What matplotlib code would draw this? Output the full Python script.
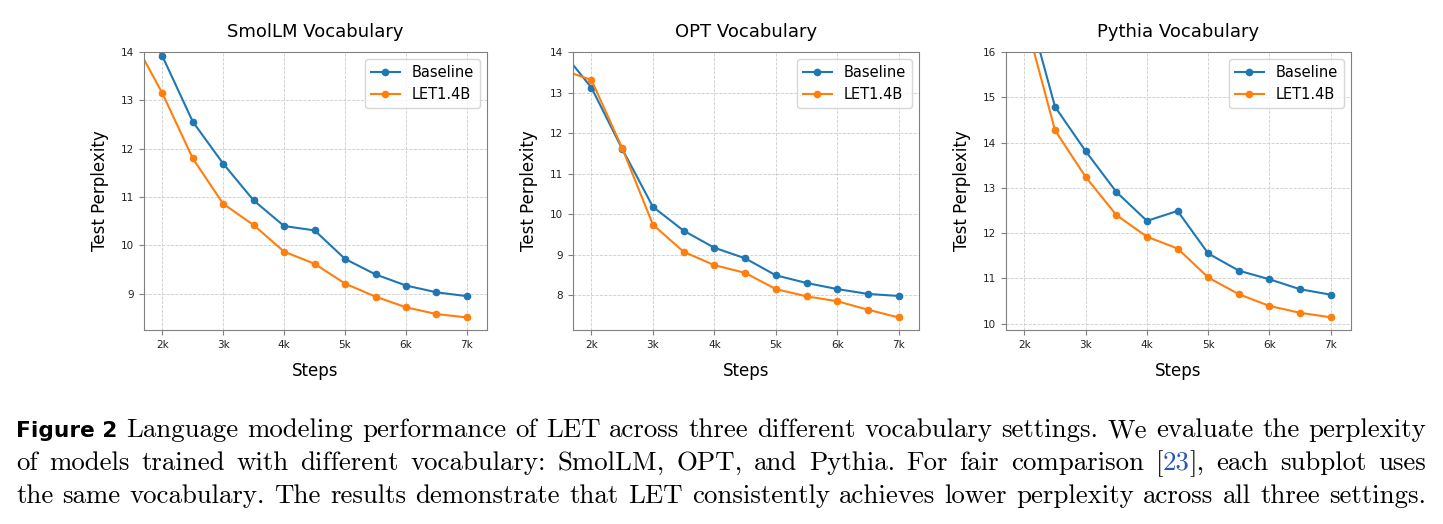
import matplotlib
matplotlib.use("Agg")
import matplotlib.pyplot as plt

# data
steps = [1500, 2000, 2500, 3000, 3500, 4000, 4500, 5000, 5500, 6000, 6500, 7000]
steps_pythia = [2000, 2500, 3000, 3500, 4000, 4500, 5000, 5500, 6000, 6500, 7000]
tick_steps = [2000, 3000, 4000, 5000, 6000, 7000]
tick_labels = ["2k", "3k", "4k", "5k", "6k", "7k"]

smollm_baseline = [14.84, 13.92, 12.56, 11.69, 10.93, 10.40, 10.31, 9.72, 9.40, 9.17, 9.03, 8.95]
smollm_let = [14.31, 13.15, 11.80, 10.86, 10.42, 9.87, 9.62, 9.21, 8.94, 8.72, 8.58, 8.51]

opt_baseline = [14.06, 13.12, 11.61, 10.18, 9.59, 9.17, 8.91, 8.49, 8.30, 8.15, 8.03, 7.98]
opt_let = [13.57, 13.31, 11.63, 9.74, 9.07, 8.74, 8.55, 8.15, 7.97, 7.85, 7.64, 7.45]

pythia_baseline = [17.27, 14.79, 13.81, 12.91, 12.27, 12.49, 11.55, 11.17, 10.98, 10.76, 10.64]
pythia_let = [16.80, 14.27, 13.24, 12.40, 11.92, 11.66, 11.02, 10.65, 10.39, 10.24, 10.14]

caption1 = "Language modeling performance of LET across three different vocabulary settings. We evaluate the perplexity"
caption2a = "of models trained with different vocabulary: SmolLM, OPT, and Pythia. For fair comparison"
caption2b = "each subplot uses"
caption3 = "the same vocabulary. The results demonstrate that LET consistently achieves lower perplexity across all three settings."

W, H = 1443, 524
fig = plt.figure(figsize=(W / 100, H / 100), dpi=100)

panels = [
    ("SmolLM Vocabulary", steps, smollm_baseline, smollm_let, (8.25, 14), 144, 343),
    ("OPT Vocabulary", steps, opt_baseline, opt_let, (7.14, 14), 573, 346),
    ("Pythia Vocabulary", steps_pythia, pythia_baseline, pythia_let, (9.86, 16), 1006, 345),
]

for title, x, base, let, ylim, left_px, width_px in panels:
    ax = fig.add_axes([left_px / W, 1 - 330 / H, width_px / W, 278 / H])
    ax.plot(x, base, marker="o", markersize=4.5, linewidth=1.5, color="#1f77b4", label="Baseline")
    ax.plot(x, let, marker="o", markersize=4.5, linewidth=1.5, color="#ff7f0e", label="LET1.4B")
    ax.set_xlim(1700, 7330)
    ax.set_ylim(*ylim)
    ax.set_xticks(tick_steps)
    ax.set_xticklabels(tick_labels)
    ax.tick_params(labelsize=7.5, color="#808080", labelcolor="#222222")
    ax.grid(True, linestyle="--", linewidth=0.6, color="#cccccc")
    for sp in ax.spines.values():
        sp.set_color("#808080")
    ax.set_title(title, fontsize=13, pad=11)
    ax.set_xlabel("Steps", fontsize=12, labelpad=8.5)
    ax.set_ylabel("Test Perplexity", fontsize=12, labelpad=9)
    ax.legend(loc="upper right", fontsize=10.5)

fig.canvas.draw()
renderer = fig.canvas.get_renderer()


def text_width(txt, **kw):
    t = fig.text(0, 0, txt, **kw)
    wd = t.get_window_extent(renderer).width
    t.remove()
    return wd


# size the serif caption so the last line fills the text width (TeX space = 1/3 em)
words3 = caption3.split()
k = sum(text_width(w, family="cmr10", fontsize=10) for w in words3) / 10
serif_size = 1410 / (k + (len(words3) - 1) * 0.333 * 100 / 72)
bold_size = 10 * 101 / text_width("Figure 2", family="DejaVu Sans", weight="bold", fontsize=10)

bold = dict(family="DejaVu Sans", weight="bold", fontsize=bold_size, color="black")
serif = dict(family="cmr10", fontsize=serif_size, color="black")
link = dict(family="cmr10", fontsize=serif_size, color="#2f52b8")

line1 = [[("Figure 2", bold)]] + [[(w, serif)] for w in caption1.split()]
line2 = [[(w, serif)] for w in caption2a.split()]
line2 += [[("[", serif), ("23", link), ("],", serif)]]
line2 += [[(w, serif)] for w in caption2b.split()]
line3 = [[(w, serif)] for w in words3]


def put_line(words, baseline_px, x0=16, x1=1426):
    # justified line: words spread so the line runs from x0 to x1
    placed = []
    total = 0
    for word in words:
        segs = []
        for txt, kw in word:
            t = fig.text(0, 1 - baseline_px / H, txt, ha="left", va="baseline", **kw)
            wd = t.get_window_extent(renderer).width
            segs.append((t, wd))
            total += wd
        placed.append(segs)
    gap = (x1 - x0 - total) / (len(words) - 1)
    x = x0
    for segs in placed:
        for t, wd in segs:
            t.set_x(x / W)
            x += wd
        x += gap


put_line(line1, 437)
put_line(line2, 470)
put_line(line3, 503)

fig.savefig("out.png", dpi=100)
